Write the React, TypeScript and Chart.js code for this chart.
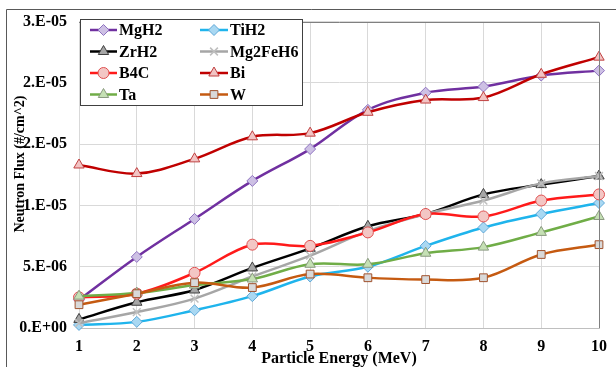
import React, { useEffect, useRef } from "react";
import { Chart, registerables } from "chart.js";

Chart.register(...registerables);

const categories = ["1", "2", "3", "4", "5", "6", "7", "8", "9", "10"];
const yTickLabels = ["0.E+00", "5.E-06", "1.E-05", "2.E-05", "2.E-05", "3.E-05"];

const MgH2 = [2.3, 5.8, 8.9, 12.0, 14.6, 17.8, 19.2, 19.7, 20.6, 21.0];
const TiH2 = [0.25, 0.5, 1.45, 2.6, 4.2, 5.0, 6.7, 8.2, 9.3, 10.2];
const ZrH2 = [0.7, 2.1, 3.1, 4.9, 6.5, 8.3, 9.3, 10.9, 11.7, 12.4];
const Mg2FeH6 = [0.4, 1.3, 2.4, 4.2, 5.9, 7.9, 9.3, 10.4, 11.8, 12.4];
const B4C = [2.5, 2.8, 4.5, 6.8, 6.7, 7.8, 9.3, 9.1, 10.4, 10.9];
const Bi = [13.3, 12.6, 13.8, 15.6, 15.9, 17.6, 18.6, 18.8, 20.7, 22.1];
const Ta = [2.6, 2.85, 3.5, 4.0, 5.2, 5.2, 6.1, 6.6, 7.8, 9.1];
const W = [1.9, 2.8, 3.7, 3.3, 4.4, 4.1, 3.95, 4.1, 6.0, 6.8];

const FONT = '"Liberation Serif", "Times New Roman", serif';

const scale = (arr: number[]) => arr.map((v) => v * 1e-6);

type S = {
  label: string;
  data: number[];
  line: string;
  fill: string;
  mborder: string;
  style: string;
};

const series: S[] = [
  { label: "MgH2", data: MgH2, line: "#7030a0", fill: "#cdc0e4", mborder: "#8e72c0", style: "rectRot" },
  { label: "TiH2", data: TiH2, line: "#1fb4ec", fill: "#a9d8f2", mborder: "#5fa8d8", style: "rectRot" },
  { label: "ZrH2", data: ZrH2, line: "#000000", fill: "#a6a6a6", mborder: "#404040", style: "triangle" },
  { label: "Mg2FeH6", data: Mg2FeH6, line: "#a6a6a6", fill: "#bfbfbf", mborder: "#bfbfbf", style: "crossRot" },
  { label: "B4C", data: B4C, line: "#ff1a1a", fill: "#f3c6c4", mborder: "#e05050", style: "circle" },
  { label: "Bi", data: Bi, line: "#c00000", fill: "#f2c4c4", mborder: "#c04040", style: "triangle" },
  { label: "Ta", data: Ta, line: "#70ad47", fill: "#c5e0b4", mborder: "#8a9a80", style: "triangle" },
  { label: "W", data: W, line: "#c55a11", fill: "#d9d9d9", mborder: "#a0522d", style: "rect" },
];

const ROWS = [30, 51.5, 73, 94.5];

function drawMarker(ctx: CanvasRenderingContext2D, style: string, r: number, x: number, y: number) {
  ctx.beginPath();
  if (style === "rectRot") {
    ctx.moveTo(x, y - r);
    ctx.lineTo(x + r, y);
    ctx.lineTo(x, y + r);
    ctx.lineTo(x - r, y);
    ctx.closePath();
    ctx.fill();
    ctx.stroke();
  } else if (style === "triangle") {
    const h = r * 1.5;
    const side = (h * 2) / Math.sqrt(3);
    ctx.moveTo(x, y - (h * 2) / 3);
    ctx.lineTo(x + side / 2, y + h / 3);
    ctx.lineTo(x - side / 2, y + h / 3);
    ctx.closePath();
    ctx.fill();
    ctx.stroke();
  } else if (style === "circle") {
    ctx.arc(x, y, r, 0, Math.PI * 2);
    ctx.fill();
    ctx.stroke();
  } else if (style === "rect") {
    const s = r * Math.SQRT1_2 * 2;
    ctx.rect(x - s / 2, y - s / 2, s, s);
    ctx.fill();
    ctx.stroke();
  } else if (style === "crossRot") {
    const d = r * Math.SQRT1_2;
    ctx.moveTo(x - d, y - d);
    ctx.lineTo(x + d, y + d);
    ctx.moveTo(x + d, y - d);
    ctx.lineTo(x - d, y + d);
    ctx.stroke();
  }
}

const decorPlugin = {
  id: "decor",
  afterDraw(chart: any) {
    const ctx = chart.ctx as CanvasRenderingContext2D;
    const a = chart.chartArea;
    ctx.save();
    // outer frame
    ctx.strokeStyle = "#595959";
    ctx.lineWidth = 1;
    ctx.beginPath();
    ctx.moveTo(6.5, 367);
    ctx.lineTo(6.5, 9.5);
    ctx.lineTo(616, 9.5);
    ctx.stroke();
    // plot border top/right
    ctx.strokeStyle = "#808080";
    ctx.beginPath();
    ctx.moveTo(a.left, Math.round(a.top) + 0.5);
    ctx.lineTo(Math.round(a.right) + 0.5, Math.round(a.top) + 0.5);
    ctx.lineTo(Math.round(a.right) + 0.5, a.bottom);
    ctx.stroke();

    // legend box
    const bx = 80.5, by = 19.5, bw = 222, bh = 86;
    ctx.fillStyle = "#ffffff";
    ctx.fillRect(bx, by, bw, bh);
    ctx.strokeStyle = "#404040";
    ctx.strokeRect(bx, by, bw, bh);
    const cols = [
      { l0: 90, l1: 117, t: 119, m: 103.5 },
      { l0: 200, l1: 228, t: 230, m: 214 },
    ];
    ctx.font = `bold 16px ${FONT}`;
    ctx.textBaseline = "middle";
    ctx.textAlign = "left";
    series.forEach((s, i) => {
      const r = ROWS[Math.floor(i / 2)];
      const c = cols[i % 2];
      ctx.strokeStyle = s.line;
      ctx.lineWidth = 2.5;
      ctx.beginPath();
      ctx.moveTo(c.l0, r);
      ctx.lineTo(c.l1, r);
      ctx.stroke();
      ctx.fillStyle = s.fill;
      ctx.strokeStyle = s.mborder;
      ctx.lineWidth = s.style === "crossRot" ? 1.5 : 1;
      drawMarker(ctx, s.style, s.style === "triangle" ? 6 : 5.5, c.m, r);
      ctx.fillStyle = "#000";
      ctx.fillText(s.label, c.t, r + 1);
    });

    // axis titles
    ctx.fillStyle = "#000";
    ctx.font = `bold 16px ${FONT}`;
    ctx.textAlign = "center";
    ctx.textBaseline = "alphabetic";
    ctx.fillText("Particle Energy (MeV)", (a.left + a.right) / 2, 363);
    ctx.translate(20, 164);
    ctx.rotate(-Math.PI / 2);
    ctx.font = `bold 14px ${FONT}`;
    ctx.textBaseline = "middle";
    ctx.fillText("Neutron Flux (#/cm^2)", 0, 0);
    ctx.restore();
  },
};

export default function App() {
  const ref = useRef<HTMLCanvasElement | null>(null);
  useEffect(() => {
    document.body.style.margin = "0";
    const canvas = ref.current!;
    const chart = new Chart(canvas, {
      type: "line",
      data: {
        labels: categories,
        datasets: series.map((s, i) => ({
          label: s.label,
          data: scale(s.data),
          borderColor: s.line,
          borderWidth: 2.5,
          backgroundColor: s.fill,
          pointStyle: s.style as any,
          pointRadius: s.style === "triangle" ? 6 : 5.5,
          pointBackgroundColor: s.fill,
          pointBorderColor: s.mborder,
          pointBorderWidth: s.style === "crossRot" ? 1.5 : 1,
          tension: 0.35,
          fill: false,
          clip: false as any,
          order: series.length - i,
        })),
      },
      options: {
        animation: false,
        responsive: false,
        maintainAspectRatio: false,
        layout: { padding: { top: 18, right: 11, left: 0, bottom: 0 } },
        plugins: {
          legend: { display: false },
          tooltip: { enabled: false },
          title: { display: false },
        },
        scales: {
          x: {
            type: "category",
            offset: false,
            grid: { color: "#d9d9d9", drawTicks: false, lineWidth: 1 },
            border: { color: "#bfbfbf" },
            ticks: {
              color: "#000",
              font: { family: FONT, size: 16, weight: "bold" },
              padding: 9,
              maxRotation: 0,
              autoSkip: false,
            },
            afterFit(s: any) {
              s.height = 39;
            },
          },
          y: {
            min: 0,
            max: 2.5e-5,
            grid: { color: "#d9d9d9", drawTicks: false, lineWidth: 1 },
            border: { color: "#d9d9d9" },
            ticks: {
              stepSize: 5e-6,
              color: "#000",
              font: { family: FONT, size: 16, weight: "bold" },
              padding: 12,
              callback: (_v: any, idx: number) => yTickLabels[idx],
            },
            afterFit(s: any) {
              s.width = 79;
            },
          },
        },
      },
      plugins: [decorPlugin],
    } as any);
    return () => chart.destroy();
  }, []);
  return <canvas ref={ref} width={616} height={367} style={{ display: "block" }} />;
}
